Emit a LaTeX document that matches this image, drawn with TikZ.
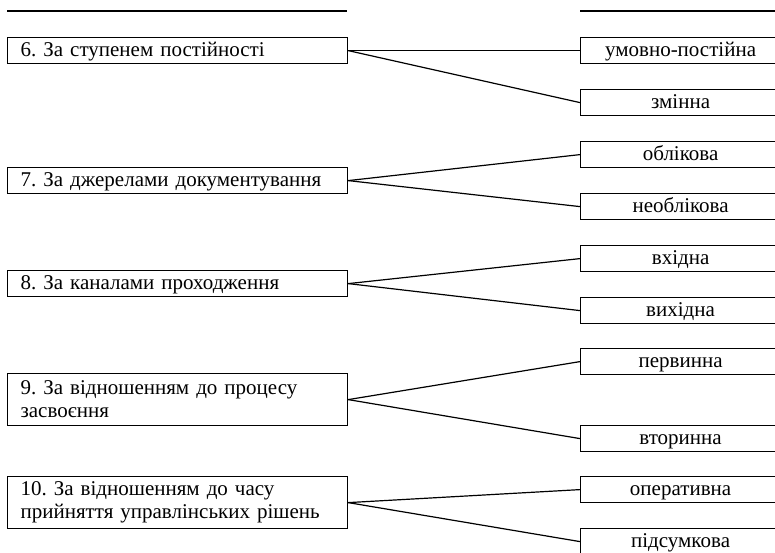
\documentclass[tikz,border=0pt]{standalone}
\usepackage{fontspec}
\setmainfont{Liberation Serif}
\frenchspacing
\begin{document}
\begin{tikzpicture}[x=1pt, y=-1pt, line width=1.2pt,
  txt/.style={font=\fontsize{21}{23}\selectfont},
  line1/.style={text height=15pt, text depth=4pt},
  cat/.style={txt, draw, anchor=north west, minimum width=340pt, minimum height=26pt,
    text width=314pt, align=left, inner xsep=13pt, inner ysep=0pt},
  val/.style={txt, line1, draw, anchor=north west, minimum width=200pt, minimum height=26pt,
    inner sep=0pt},
  link/.style={line width=1.2pt}]
\path[use as bounding box, clip] (0,0) rectangle (775,552);

% header rules
\draw (7,11) -- (347,11);
\draw (580,11) -- (775,11);

% classification criteria
\node[cat, line1] (c6)  at (7,37)  {6. За ступенем постійності};
\node[cat, line1] (c7)  at (7,167) {7. За джерелами документування};
\node[cat, line1] (c8)  at (7,270) {8. За каналами проходження};
\node[cat, minimum height=52pt] (c9)  at (7,373) {9. За відношенням до процесу\\засвоєння};
\node[cat, minimum height=52pt] (c10) at (7,476) {10. За відношенням до часу\\прийняття управлінських рішень};

% kinds of information
\node[val] (v6a)  at (580,37)  {умовно-постійна};
\node[val] (v6b)  at (580,89)  {змінна};
\node[val] (v7a)  at (580,141) {облікова};
\node[val] (v7b)  at (580,193) {необлікова};
\node[val] (v8a)  at (580,245) {вхідна};
\node[val] (v8b)  at (580,297) {вихідна};
\node[val] (v9a)  at (580,348) {первинна};
\node[val] (v9b)  at (580,425) {вторинна};
\node[val] (v10a) at (580,476) {оперативна};
\node[val] (v10b) at (580,528) {підсумкова};

% connectors
\foreach \c/\a/\b in {c6/v6a/v6b, c7/v7a/v7b, c8/v8a/v8b, c9/v9a/v9b, c10/v10a/v10b}{
  \draw[link] (\c.east) -- (\a.west);
  \draw[link] (\c.east) -- (\b.west);
}
\end{tikzpicture}
\end{document}
